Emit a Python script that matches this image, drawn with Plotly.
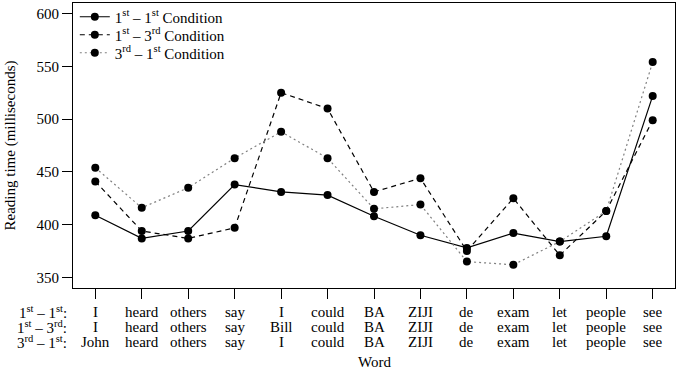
import plotly.graph_objects as go

# ---- data ----
positions = list(range(1, 14))
words_11 = ["I", "heard", "others", "say", "I", "could", "BA", "ZIJI", "de", "exam", "let", "people", "see"]
words_13 = ["I", "heard", "others", "say", "Bill", "could", "BA", "ZIJI", "de", "exam", "let", "people", "see"]
words_31 = ["John", "heard", "others", "say", "I", "could", "BA", "ZIJI", "de", "exam", "let", "people", "see"]

cond_11 = [409, 387, 394, 438, 431, 428, 408, 390, 378, 392, 384, 389, 522]
cond_13 = [441, 394, 387, 397, 525, 510, 431, 444, 375, 425, 371, 413, 499]
cond_31 = [454, 416, 435, 463, 488, 463, 415, 419, 365, 362, 384, 413, 554]

row_labels = ["1<sup>st</sup> – 1<sup>st</sup>:", "1<sup>st</sup> – 3<sup>rd</sup>:", "3<sup>rd</sup> – 1<sup>st</sup>:"]
series_names = ["1<sup>st</sup> – 1<sup>st</sup> Condition",
                "1<sup>st</sup> – 3<sup>rd</sup> Condition",
                "3<sup>rd</sup> – 1<sup>st</sup> Condition"]
y_ticks = [350, 400, 450, 500, 550, 600]

FONT = "Liberation Serif, Times New Roman, serif"

W, H = 680, 371
ml, mr, mt, mb = 73, 5, 3, 83
plot_h = H - mt - mb

fig = go.Figure()
styles = [
    dict(color="black", dash="solid"),
    dict(color="black", dash="5px,4px"),
    dict(color="#808080", dash="2px,3px"),
]
legend_ids = ["legend", "legend2", "legend3"]
for vals, name, st, lid in zip([cond_11, cond_13, cond_31], series_names, styles, legend_ids):
    fig.add_trace(go.Scatter(
        x=positions, y=vals, name=name, mode="lines+markers",
        line=dict(color=st["color"], dash=st["dash"], width=1.2),
        marker=dict(color="black", size=8),
        legend=lid,
    ))

legend_rows_px = [14, 32, 50]  # centre of each legend row, px below plot top
legend_common = dict(xanchor="left", yanchor="middle", bgcolor="rgba(0,0,0,0)",
                     borderwidth=0, font=dict(family=FONT, size=15), itemwidth=30)
legends = {}
for lid, rpx in zip(legend_ids, legend_rows_px):
    legends[lid] = dict(x=0.003, y=1 - rpx / plot_h, **legend_common)

fig.update_layout(
    width=W, height=H,
    margin=dict(l=ml, r=mr, t=mt, b=mb, autoexpand=False),
    plot_bgcolor="white", paper_bgcolor="white",
    font=dict(family=FONT, size=15, color="black"),
    showlegend=True,
    xaxis=dict(range=[0.52, 13.48], tickvals=positions, ticktext=[""] * 13,
               showgrid=False, zeroline=False, showline=True, mirror=True,
               linecolor="black", linewidth=1, ticks="outside", ticklen=10,
               tickcolor="black", showticklabels=False, automargin=False),
    yaxis=dict(range=[340, 610], tickvals=y_ticks,
               showgrid=False, zeroline=False, showline=True, mirror=True,
               linecolor="black", linewidth=1, ticks="outside", ticklen=10,
               tickcolor="black", tickfont=dict(size=15), automargin=False),
    **legends,
)

row_shifts = [-24, -39, -54]
for words, shift, lab in zip([words_11, words_13, words_31], row_shifts, row_labels):
    for xpos, w in zip(positions, words):
        fig.add_annotation(x=xpos, y=0, xref="x", yref="paper", text=w,
                           showarrow=False, xanchor="center", yanchor="middle",
                           yshift=shift, font=dict(size=15))
    fig.add_annotation(x=0, y=0, xref="paper", yref="paper", text=lab,
                       showarrow=False, xanchor="right", yanchor="middle",
                       xshift=-4, yshift=shift, font=dict(size=15))

fig.add_annotation(x=0.5, y=0, xref="paper", yref="paper", text="Word",
                   showarrow=False, xanchor="center", yanchor="middle",
                   yshift=-74, font=dict(size=15))
fig.add_annotation(x=0, y=0.5, xref="paper", yref="paper",
                   text="Reading time (milliseconds)", textangle=-90,
                   showarrow=False, xanchor="center", yanchor="middle",
                   xshift=-63, font=dict(size=15))

fig.write_html("out.html",
               config={"displayModeBar": False},
               post_script="document.body.style.margin='0';document.body.style.overflow='hidden';")
